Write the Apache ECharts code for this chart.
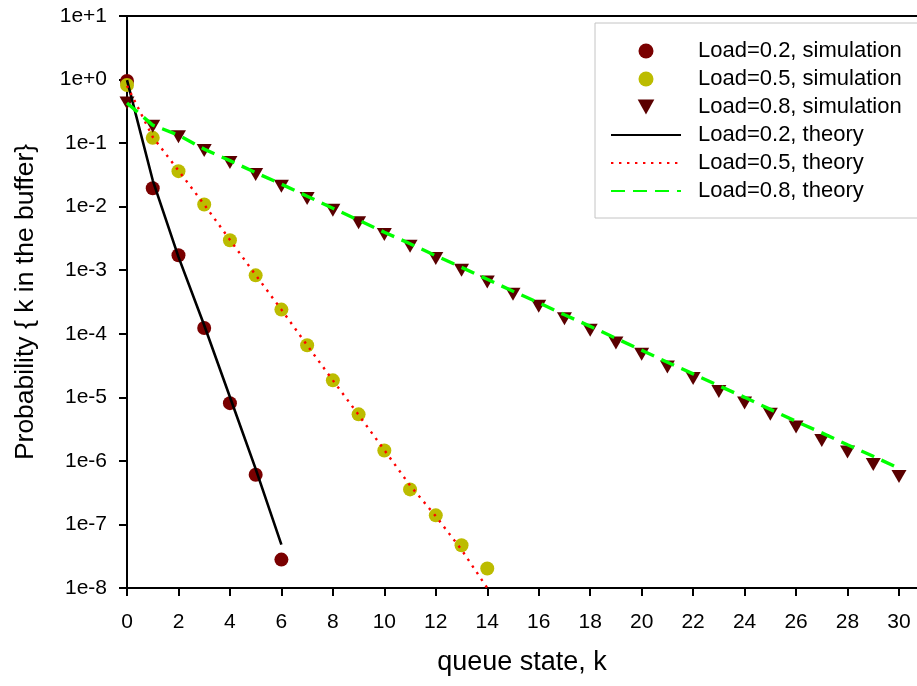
<!DOCTYPE html>
<html>
<head>
<meta charset="utf-8">
<script src="https://cdn.jsdelivr.net/npm/echarts@6/dist/echarts.min.js"></script>
<style>
html,body{margin:0;padding:0;background:#fff;}
#chart{width:917px;height:686px;}
</style>
</head>
<body>
<div id="chart"></div>
<script>
// ---- data ----
const seriesNames = [
  'Load=0.2, simulation', 'Load=0.5, simulation', 'Load=0.8, simulation',
  'Load=0.2, theory', 'Load=0.5, theory', 'Load=0.8, theory'
];
const xTicks = [0,2,4,6,8,10,12,14,16,18,20,22,24,26,28,30];
const sim02 = [0.95, 0.0195, 1.72e-3, 1.23e-4, 8.1e-6, 6.05e-7, 2.8e-8];
const sim05 = [0.82, 0.121, 0.0362, 0.0108, 2.97e-3, 8.3e-4, 2.4e-4, 6.6e-5, 1.85e-5, 5.4e-6, 1.46e-6, 3.56e-7, 1.39e-7, 4.7e-8, 2.03e-8];
const sim08 = [0.427, 0.185, 0.126, 0.0762, 0.0497, 0.0321, 0.0210, 0.01346, 8.81e-3, 5.56e-3, 3.65e-3, 2.39e-3, 1.53e-3, 1.0e-3, 6.55e-4, 4.19e-4, 2.71e-4, 1.73e-4, 1.14e-4, 7.16e-5, 4.75e-5, 3.0e-5, 1.97e-5, 1.24e-5, 8.12e-6, 5.4e-6, 3.4e-6, 2.1e-6, 1.38e-6, 8.8e-7, 5.7e-7];
const theory02 = [0.98, 0.026, 1.62e-3, 1.36e-4, 1.01e-5, 7.5e-7, 4.8e-8];
const theory05 = [0.8, 0.125, 0.037, 0.0108, 3.0e-3, 8.4e-4, 2.4e-4, 6.6e-5, 1.85e-5, 5.3e-6, 1.48e-6, 4.1e-7, 1.35e-7, 4.0e-8, 1.0e-8];
const theory08 = [0.427, 0.192, 0.1337, 0.0805, 0.0530, 0.0343, 0.0226, 0.01462, 9.46e-3, 6.12e-3, 3.96e-3, 2.61e-3, 1.69e-3, 1.11e-3, 7.21e-4, 4.67e-4, 3.08e-4, 1.99e-4, 1.31e-4, 8.49e-5, 5.5e-5, 3.56e-5, 2.34e-5, 1.52e-5, 1.0e-5, 6.47e-6, 4.19e-6, 2.76e-6, 1.79e-6, 1.18e-6, 7.62e-7];

// ---- chart ----
const FONT = "'Liberation Sans', Arial, sans-serif";
const toPairs = arr => arr.map((v, i) => [i, v]);
const TRI = 'path://M0,0 L10,0 L5,9 Z';
const HIDE = {color: 'rgba(0,0,0,0)', borderWidth: 0, opacity: 0};

const chart = echarts.init(document.getElementById('chart'), null, {renderer: 'canvas'});
chart.setOption({
  animation: false,
  backgroundColor: '#ffffff',
  grid: {left: 127, right: 0, top: 16, bottom: 98, containLabel: false},
  legend: {
    orient: 'vertical',
    left: 595, top: 23,
    padding: [17, 22, 16, 15],
    borderColor: '#c4c4c4', borderWidth: 1,
    backgroundColor: '#ffffff',
    itemWidth: 70, itemHeight: 15, itemGap: 6,
    symbolKeepAspect: true,
    textStyle: {fontFamily: FONT, fontSize: 22, color: '#000', lineHeight: 22, padding: [0, 0, 0, 12]},
    data: [
      {name: seriesNames[0], icon: 'circle'},
      {name: seriesNames[1], icon: 'circle'},
      {name: seriesNames[2], icon: TRI},
      {name: seriesNames[3], itemStyle: HIDE},
      {name: seriesNames[4], itemStyle: HIDE},
      {name: seriesNames[5], itemStyle: HIDE}
    ]
  },
  xAxis: [{
    type: 'value', min: 0, max: 30.7, interval: 2,
    name: 'queue state, k', nameLocation: 'middle', nameGap: 61,
    nameTextStyle: {fontFamily: FONT, fontSize: 27, color: '#000'},
    axisLine: {show: true, onZero: false, lineStyle: {color: '#000', width: 2}},
    axisTick: {show: true, inside: false, length: 8, lineStyle: {color: '#000', width: 2}, customValues: xTicks},
    axisLabel: {fontFamily: FONT, fontSize: 21, color: '#000', margin: 24, customValues: xTicks},
    splitLine: {show: false}
  }, {
    type: 'value', position: 'top', min: 0, max: 30.7,
    axisLine: {show: true, onZero: false, lineStyle: {color: '#000', width: 2}},
    axisTick: {show: false}, axisLabel: {show: false}, splitLine: {show: false}
  }],
  yAxis: {
    type: 'log', logBase: 10, min: 1e-8, max: 10, interval: 1,
    name: 'Probability { k in the buffer}', nameLocation: 'middle', nameGap: 88,
    nameTextStyle: {fontFamily: FONT, fontSize: 26.5, color: '#000'},
    axisLine: {show: true, onZero: false, lineStyle: {color: '#000', width: 2}},
    axisTick: {show: true, inside: false, length: 8, lineStyle: {color: '#000', width: 2}},
    axisLabel: {
      fontFamily: FONT, fontSize: 21, color: '#000', margin: 20,
      formatter: v => { const e = Math.round(Math.log10(v)); return '1e' + (e >= 0 ? '+' : '') + e; }
    },
    splitLine: {show: false}, minorTick: {show: false}
  },
  series: [
    {name: seriesNames[0], type: 'scatter', data: toPairs(sim02), symbol: 'circle', symbolSize: 14,
     itemStyle: {color: '#7a0000', opacity: 1}, z: 2},
    {name: seriesNames[1], type: 'scatter', data: toPairs(sim05), symbol: 'circle', symbolSize: 14,
     itemStyle: {color: '#bcbc00', opacity: 1}, z: 2},
    {name: seriesNames[2], type: 'scatter', data: toPairs(sim08), symbol: TRI, symbolSize: [15, 13],
     itemStyle: {color: '#5a0000', opacity: 1}, z: 2},
    {name: seriesNames[3], type: 'line', data: toPairs(theory02), symbol: 'none', showSymbol: false,
     lineStyle: {color: '#000', width: 2.6}, itemStyle: {color: '#000'}, z: 3},
    {name: seriesNames[4], type: 'line', data: toPairs(theory05), symbol: 'none', showSymbol: false,
     lineStyle: {color: '#ff0000', width: 2.4, type: [2.4, 5.6]}, itemStyle: {color: '#ff0000'}, z: 3},
    {name: seriesNames[5], type: 'line', data: toPairs(theory08), symbol: 'none', showSymbol: false,
     lineStyle: {color: '#00ff00', width: 3.4, type: [14, 8]}, itemStyle: {color: '#00ff00'}, z: 3}
  ]
});
</script>
</body>
</html>
